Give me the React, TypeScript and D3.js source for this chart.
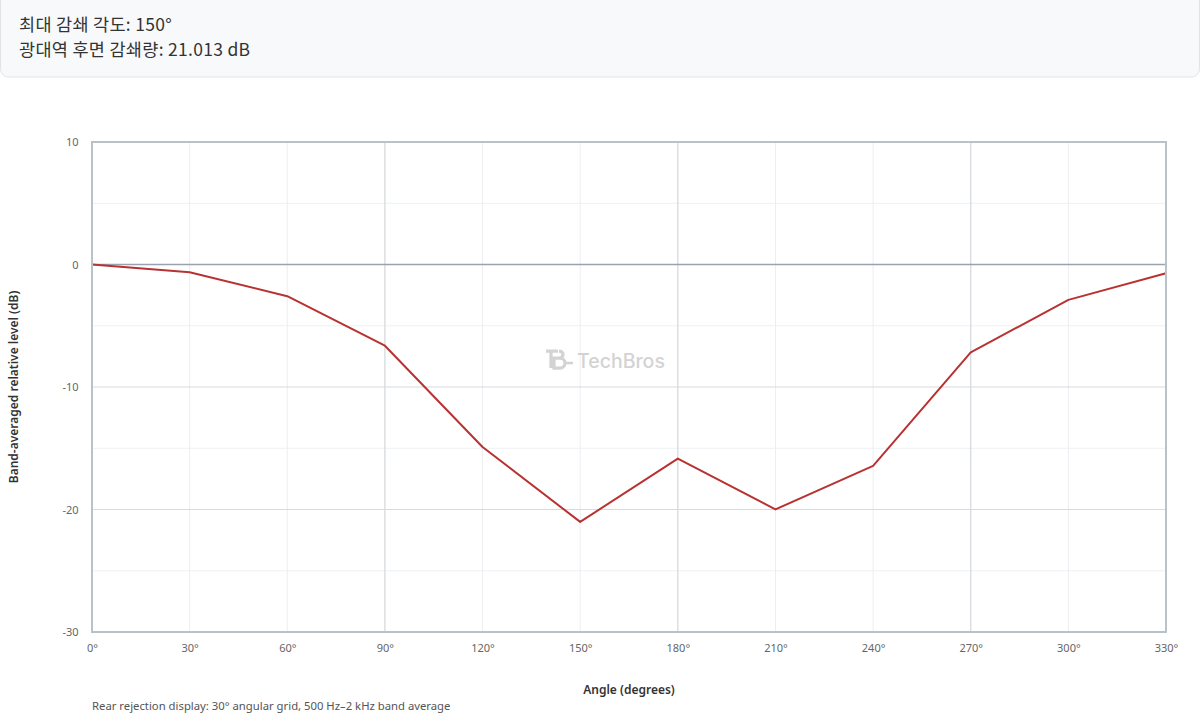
import { useEffect, useRef } from "react";
import * as d3 from "d3";

const angles = [0, 30, 60, 90, 120, 150, 180, 210, 240, 270, 300, 330];
const levels = [0, -0.63, -2.59, -6.63, -14.9, -21.013, -15.84, -19.99, -16.44, -7.17, -2.89, -0.71];
const yTicks = [10, 0, -10, -20, -30];
const yMinor = [5, -5, -15, -25];
const majorAngles = [90, 180, 270];

const LINE = "#b83232";
const AXIS_TEXT = "#666";
const FRAME = "#b9c1c9";

export default function App() {
  const ref = useRef<HTMLDivElement>(null);

  useEffect(() => {
    document.body.style.margin = "0";
    if (!ref.current) return;
    d3.select(ref.current).selectAll("*").remove();

    const totalW = 1200;
    const totalH = 716;
    const margin = { top: 142, right: 34, bottom: 84, left: 92 };
    const width = totalW - margin.left - margin.right;
    const height = totalH - margin.top - margin.bottom;

    const svg = d3
      .select(ref.current)
      .append("svg")
      .attr("width", totalW)
      .attr("height", totalH)
      .style("display", "block")
      .style("font-family", "'Segoe UI', 'Noto Sans', sans-serif");

    // Header box
    svg
      .append("rect")
      .attr("x", 0.5)
      .attr("y", -8)
      .attr("width", totalW - 1)
      .attr("height", 85)
      .attr("rx", 8)
      .attr("fill", "#f8f9fb")
      .attr("stroke", "#e0e4e9");

    const header = ["최대 감쇄 각도: 150°", "광대역 후면 감쇄량: 21.013 dB"];
    svg
      .selectAll("text.header")
      .data(header)
      .join("text")
      .attr("class", "header")
      .attr("x", 19)
      .attr("y", (_, i) => 31 + i * 25)
      .attr("font-size", "17.5px")
      .attr("fill", "#333")
      .attr("letter-spacing", "0.3px")
      .style("font-family", "'Noto Sans CJK KR', 'Noto Sans', sans-serif")
      .text((d) => d);

    const g = svg.append("g").attr("transform", `translate(${margin.left},${margin.top})`);

    const x = d3.scaleLinear().domain([0, 330]).range([0, width]);
    const y = d3.scaleLinear().domain([-30, 10]).range([height, 0]);

    // Minor horizontal grid
    g.selectAll("line.ymin")
      .data(yMinor)
      .join("line")
      .attr("x1", 0)
      .attr("x2", width)
      .attr("y1", (d) => y(d))
      .attr("y2", (d) => y(d))
      .attr("stroke", "#eef0f3");

    // Vertical grid
    g.selectAll("line.xg")
      .data(angles)
      .join("line")
      .attr("x1", (d) => x(d))
      .attr("x2", (d) => x(d))
      .attr("y1", 0)
      .attr("y2", height)
      .attr("stroke", (d) => (majorAngles.includes(d) ? "#d6dade" : "#eceef2"))
      .attr("stroke-width", (d) => (majorAngles.includes(d) ? 1.3 : 1));

    // Major horizontal grid
    g.selectAll("line.ymaj")
      .data(yTicks)
      .join("line")
      .attr("x1", 0)
      .attr("x2", width)
      .attr("y1", (d) => y(d))
      .attr("y2", (d) => y(d))
      .attr("stroke", (d) => (d === 0 ? "#9aa3ad" : "#d6dade"))
      .attr("stroke-width", (d) => (d === 0 ? 1.5 : 1.2));

    // Watermark
    const wm = g.append("g").attr("transform", `translate(${width / 2 - 83},${y(-7.8)})`).attr("opacity", 0.9);
    wm.append("path")
      .attr("d", "M0,-9 H12 M5,-9 V8 M8,-2 H14 A5,5 0 0 1 14,8 H8 Z M13,-2 A4,3.5 0 0 0 13,-9")
      .attr("fill", "none")
      .attr("stroke", "#cfcfcf")
      .attr("stroke-width", 3.2);
    wm.append("line").attr("x1", 20).attr("x2", 27).attr("y1", 3).attr("y2", 3).attr("stroke", "#cfcfcf").attr("stroke-width", 2.5);
    wm.append("text")
      .attr("x", 31)
      .attr("y", 8)
      .attr("font-size", "19.5px")
      .attr("font-weight", "500")
      .attr("fill", "#cfcfcf")
      .style("font-family", "Inter, 'Noto Sans', sans-serif")
      .text("TechBros");

    // Line
    const pts = angles.map((a, i) => ({ a, v: levels[i] }));
    const line = d3
      .line<{ a: number; v: number }>()
      .x((d) => x(d.a))
      .y((d) => y(d.v));
    g.append("path")
      .datum(pts)
      .attr("fill", "none")
      .attr("stroke", LINE)
      .attr("stroke-width", 2)
      .attr("stroke-linejoin", "round")
      .attr("d", line);

    // Frame
    g.append("rect")
      .attr("x", 0)
      .attr("y", 0)
      .attr("width", width)
      .attr("height", height)
      .attr("fill", "none")
      .attr("stroke", FRAME)
      .attr("stroke-width", 2);

    // X axis
    g.append("g")
      .attr("transform", `translate(0,${height})`)
      .call(d3.axisBottom(x).tickValues(angles).tickFormat((d) => `${d}°`).tickSize(0))
      .call((ax) => ax.select(".domain").remove())
      .selectAll("text")
      .attr("dy", "1.55em")
      .attr("font-size", "11px")
      .attr("fill", AXIS_TEXT)
      .style("font-family", "'Segoe UI', 'Noto Sans', sans-serif");

    // Y axis
    g.append("g")
      .call(d3.axisLeft(y).tickValues(yTicks).tickFormat((d) => String(d)).tickSize(0))
      .call((ax) => ax.select(".domain").remove())
      .selectAll("text")
      .attr("dx", "-0.95em")
      .attr("font-size", "11px")
      .attr("fill", AXIS_TEXT)
      .style("font-family", "'Segoe UI', 'Noto Sans', sans-serif");

    svg
      .append("text")
      .attr("transform", "rotate(-90)")
      .attr("x", -(margin.top + height / 2))
      .attr("y", 18)
      .attr("text-anchor", "middle")
      .attr("font-size", "12px")
      .attr("font-weight", "600")
      .attr("fill", "#333")
      .text("Band-averaged relative level (dB)");

    svg
      .append("text")
      .attr("x", margin.left + width / 2)
      .attr("y", 694)
      .attr("text-anchor", "middle")
      .attr("font-size", "12px")
      .attr("font-weight", "600")
      .attr("fill", "#333")
      .text("Angle (degrees)");

    svg
      .append("text")
      .attr("x", margin.left)
      .attr("y", 710)
      .attr("font-size", "11.3px")
      .attr("fill", "#555")
      .text("Rear rejection display: 30° angular grid, 500 Hz–2 kHz band average");
  }, []);

  return <div ref={ref} style={{ width: 1200 }} />;
}
